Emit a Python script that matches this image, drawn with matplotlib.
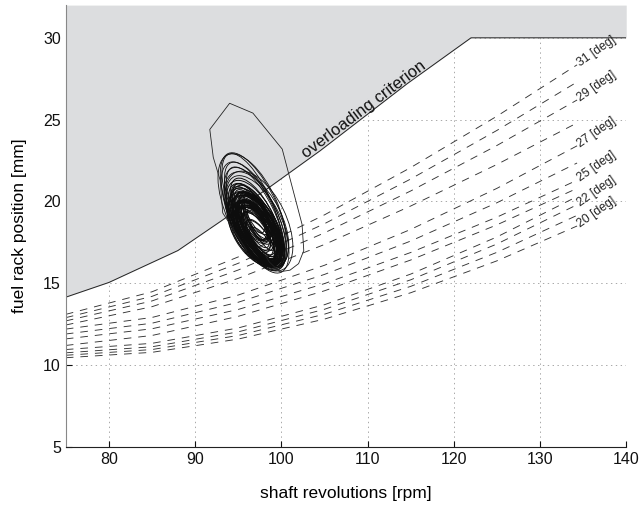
import matplotlib
matplotlib.use('Agg')
import matplotlib.pyplot as plt
from matplotlib.patches import Ellipse
from matplotlib.transforms import Affine2D

plt.rcParams['font.family'] = ['Liberation Sans', 'DejaVu Sans']
plt.rcParams['lines.scale_dashes'] = False

# ---------------- data ----------------
crit_x = [75, 80, 88, 93, 98.7, 104.5, 114.6, 122, 140]
crit_y = [14.15, 15.05, 17.0, 18.8, 20.9, 23.1, 27.2, 30.0, 30.0]

curve_x = [75, 85, 95, 105, 115, 125, 134.3]
curve_deg = [31, 30, 29, 28, 27, 26, 25, 24, 23, 22, 21, 20]
curve_y = [
    [13.10, 14.48, 16.61, 19.18, 22.07, 25.21, 28.35],
    [12.90, 14.20, 16.22, 18.64, 21.37, 24.34, 27.30],
    [12.70, 13.92, 15.81, 18.08, 20.64, 23.42, 26.20],
    [12.45, 13.57, 15.30, 17.37, 19.72, 22.26, 24.80],
    [12.20, 12.91, 14.28, 16.10, 18.29, 20.80, 23.40],
    [11.90, 12.56, 13.84, 15.54, 17.58, 19.92, 22.35],
    [11.60, 12.22, 13.40, 14.98, 16.88, 19.04, 21.30],
    [11.20, 11.81, 12.98, 14.54, 16.42, 18.57, 20.80],
    [10.95, 11.33, 12.27, 13.69, 15.56, 17.83, 20.30],
    [10.75, 11.12, 12.03, 13.41, 15.21, 17.40, 19.80],
    [10.60, 10.95, 11.81, 13.11, 14.81, 16.89, 19.15],
    [10.45, 10.78, 11.59, 12.81, 14.42, 16.37, 18.50],
]
labelled_deg = [31, 29, 27, 25, 22, 20]

# outer excursion of the trajectory
outer_x = [96.0, 93.2, 92.9, 92.1, 91.7, 94.0, 96.7, 100.1, 101.05, 102.4, 102.6, 102.0, 101.0, 99.8, 98.6, 97.6]
outer_y = [17.0, 19.3, 21.3, 22.7, 24.4, 26.0, 25.4, 23.2, 21.3, 18.6, 17.0, 16.2, 15.8, 15.7, 16.3, 17.2]

# loops of the limit cycle: centre (data), length / width (pixels), tilt (deg)
loop_cx = [97.2, 97.0, 97.4, 97.1, 97.3, 96.9, 97.5, 97.2, 97.0, 97.3,
           97.1, 96.8, 97.4, 97.2, 97.0, 97.3, 96.9, 97.5, 97.1, 97.2,
           97.0, 97.3, 97.4, 96.9, 97.2, 97.1, 97.3, 97.0, 97.4, 97.2,
           96.9, 96.8, 97.0, 96.7, 97.1, 96.9, 97.2, 96.6, 97.0, 97.4,
           97.0, 97.3, 96.8, 97.5, 97.1, 96.9, 97.6, 97.2, 96.7, 97.4,
           97.0, 97.3, 96.9, 97.6, 97.2, 97.1, 96.8, 97.5, 97.0, 97.3,
           97.8, 96.6, 97.2, 97.4, 96.9, 97.1, 97.5, 97.0, 97.3, 96.8]
loop_cy = [18.3, 18.5, 18.1, 18.4, 18.2, 18.6, 18.0, 18.4, 18.3, 18.5,
           18.1, 18.7, 18.3, 18.6, 18.0, 18.4, 18.2, 18.3, 18.8, 17.9,
           18.5, 18.1, 18.6, 18.4, 18.2, 18.6, 18.3, 18.7, 18.0, 18.5,
           19.3, 19.1, 19.0, 19.4, 18.9, 19.2, 18.8, 19.5, 19.1, 18.8,
           18.6, 18.2, 19.0, 17.8, 18.4, 18.9, 17.6, 18.1, 19.3, 17.9,
           18.7, 18.3, 18.5, 17.7, 19.1, 18.0, 18.8, 18.4, 17.9, 18.7,
           17.4, 19.0, 18.5, 18.2, 18.3, 19.2, 17.9, 18.1, 18.6, 18.4]
loop_len = [80, 84, 74, 88, 70, 90, 66, 78, 82, 76,
            72, 92, 68, 86, 74, 80, 78, 62, 94, 70,
            88, 84, 72, 80, 64, 90, 76, 86, 78, 82,
            130, 118, 110, 124, 104, 114, 100, 120, 108, 108,
            60, 55, 50, 58, 45, 52, 48, 62, 44, 56,
            40, 66, 54, 46, 50, 60, 42, 52, 64, 48,
            40, 50, 36, 58, 62, 44, 54, 70, 38, 56]
loop_wid = [34, 36, 30, 40, 28, 38, 26, 32, 40, 30,
            36, 42, 24, 34, 38, 28, 42, 22, 36, 32,
            30, 38, 26, 44, 30, 32, 40, 28, 34, 26,
            48, 46, 44, 42, 50, 40, 46, 52, 38, 54,
            24, 20, 18, 22, 16, 26, 18, 28, 16, 24,
            14, 26, 22, 16, 20, 30, 18, 14, 24, 20,
            14, 22, 12, 26, 28, 16, 20, 30, 12, 24]
loop_ang = [-60, -62, -58, -61, -59, -63, -57, -61, -60, -62,
            -58, -64, -60, -63, -57, -61, -59, -60, -64, -56,
            -62, -59, -63, -60, -58, -62, -60, -64, -57, -61,
            -66, -65, -64, -67, -63, -65, -62, -66, -64, -64,
            -60, -58, -62, -57, -61, -63, -56, -59, -64, -58,
            -60, -62, -61, -57, -63, -59, -62, -60, -58, -61,
            -55, -64, -60, -59, -62, -63, -57, -60, -61, -62]

xticks = [80, 90, 100, 110, 120, 130, 140]
yticks = [5, 10, 15, 20, 25, 30]
xlim = (75, 140)
ylim = (5, 32)

# ---------------- figure ----------------
W, H = 6.39, 5.09
fig = plt.figure(figsize=(W, H), dpi=100)
ax = fig.add_axes([0.103, 0.122, 0.877, 0.868])
ax.set_xlim(*xlim)
ax.set_ylim(*ylim)

ax.set_axisbelow(True)
ax.grid(True, color='#a8a8a8', linestyle=(0, (1, 2.5)), linewidth=0.7)

# overload region
ax.fill_between(crit_x, crit_y, ylim[1], color='#dcdddf', zorder=1.2, linewidth=0)
ax.plot(crit_x, crit_y, color='#222222', lw=0.7, zorder=1.3)

# injection timing curves
for deg, ys in zip(curve_deg, curve_y):
    ax.plot(curve_x, ys, color='#333333', lw=0.65, dashes=(5.5, 5.0), zorder=2)
    if deg in labelled_deg:
        ax.text(curve_x[-1] + 0.2, ys[-1] + 0.05, f'{deg} [deg]', fontsize=8.8,
                rotation=35, rotation_mode='anchor', ha='left', va='center',
                color='#222222', zorder=4)

# trajectory loops in an isotropic frame
bbox = ax.get_position()
px_per_x = bbox.width * W * 100 / (xlim[1] - xlim[0])
px_per_y = bbox.height * H * 100 / (ylim[1] - ylim[0])
r = px_per_y / px_per_x
iso = Affine2D().scale(1, 1 / r) + ax.transData
for cx, cy, L, Wd, a in zip(loop_cx, loop_cy, loop_len, loop_wid, loop_ang):
    e = Ellipse((cx, cy * r), L / px_per_x, Wd / px_per_x, angle=a,
                fill=False, edgecolor='#0d0d0d', lw=0.7 if L < 100 else 0.6,
                transform=iso, zorder=3)
    ax.add_patch(e)
ax.plot(outer_x, outer_y, color='#222222', lw=0.6, zorder=3)

ax.text(109.6, 25.6, 'overloading criterion', fontsize=12, rotation=37,
        rotation_mode='anchor', ha='center', va='center', color='#111111', zorder=4)

ax.set_xticks(xticks)
ax.set_yticks(yticks)
ax.tick_params(direction='in', length=4, width=0.8, labelsize=11.5, colors='#111111')
for s in ['top', 'right']:
    ax.spines[s].set_visible(False)
ax.spines['left'].set_color('#888888')
ax.spines['bottom'].set_color('#222222')
ax.spines['left'].set_linewidth(0.8)
ax.spines['bottom'].set_linewidth(0.8)

ax.set_xlabel('shaft revolutions [rpm]', fontsize=12.5, labelpad=14)
ax.set_ylabel('fuel rack position [mm]', fontsize=12.5, labelpad=12)

fig.savefig('out.png', dpi=100)
